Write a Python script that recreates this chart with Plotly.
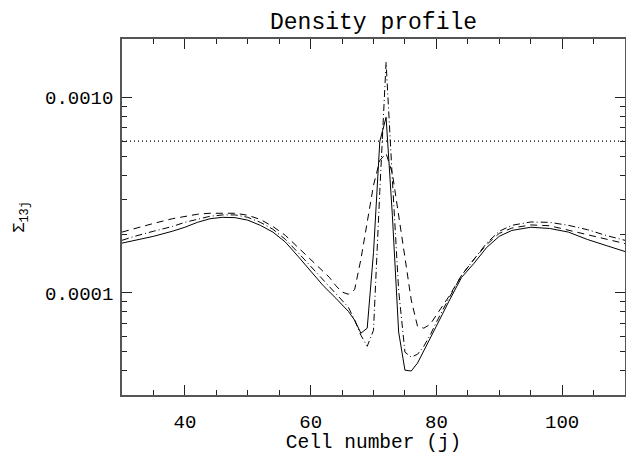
import plotly.graph_objects as go

# Cell numbers and surface density values
j_solid = [30, 32, 35, 38, 40, 42, 44, 46, 48, 50, 52, 54, 56, 58, 60, 62, 64, 66, 67, 68, 69,
           70, 71, 72, 73, 74, 75, 76, 77, 78, 79, 80, 82, 84, 86, 88, 90, 92, 95, 98, 101, 104, 107, 110]
sigma_solid = [1.80e-4, 1.86e-4, 1.95e-4, 2.07e-4, 2.17e-4, 2.30e-4, 2.40e-4, 2.44e-4, 2.43e-4,
               2.36e-4, 2.22e-4, 2.05e-4, 1.82e-4, 1.54e-4, 1.29e-4, 1.09e-4, 9.4e-5, 8.05e-5,
               7.25e-5, 6.22e-5, 6.6e-5, 1.61e-4, 5.97e-4, 7.95e-4, 2.50e-4, 6.3e-5, 4.02e-5,
               3.98e-5, 4.37e-5, 5.03e-5, 5.8e-5, 6.76e-5, 9.07e-5, 1.20e-4, 1.42e-4, 1.71e-4,
               1.95e-4, 2.09e-4, 2.17e-4, 2.14e-4, 2.05e-4, 1.88e-4, 1.75e-4, 1.63e-4]

j_dashed = [30, 32, 35, 38, 40, 42, 44, 46, 48, 50, 52, 54, 56, 58, 60, 62, 63, 64, 65, 66, 67,
            68, 69, 70, 71, 72, 73, 74, 75, 76, 77, 78, 79, 80, 82, 84, 86, 88, 90, 92, 95, 98,
            101, 104, 107, 110]
sigma_dashed = [2.05e-4, 2.14e-4, 2.27e-4, 2.40e-4, 2.47e-4, 2.53e-4, 2.56e-4, 2.57e-4, 2.56e-4,
                2.50e-4, 2.38e-4, 2.19e-4, 1.97e-4, 1.71e-4, 1.49e-4, 1.29e-4, 1.20e-4, 1.09e-4,
                1.01e-4, 9.85e-5, 1.04e-4, 1.49e-4, 2.30e-4, 3.56e-4, 4.77e-4, 5.19e-4, 4.10e-4,
                2.56e-4, 1.52e-4, 9.2e-5, 6.75e-5, 6.6e-5, 6.9e-5, 7.7e-5, 9.6e-5, 1.23e-4,
                1.49e-4, 1.77e-4, 2.02e-4, 2.15e-4, 2.23e-4, 2.21e-4, 2.10e-4, 1.98e-4, 1.88e-4, 1.79e-4]

j_dashdot = [30, 32, 35, 38, 40, 42, 44, 46, 48, 50, 52, 54, 56, 58, 60, 62, 64, 66, 67, 68, 69,
             70, 71, 72, 73, 74, 75, 76, 77, 78, 79, 80, 82, 84, 86, 88, 90, 92, 95, 98, 101,
             104, 107, 110]
sigma_dashdot = [1.86e-4, 1.95e-4, 2.07e-4, 2.19e-4, 2.30e-4, 2.38e-4, 2.47e-4, 2.51e-4, 2.51e-4,
                 2.44e-4, 2.30e-4, 2.12e-4, 1.88e-4, 1.61e-4, 1.37e-4, 1.16e-4, 1.0e-4, 8.45e-5,
                 7.25e-5, 6.07e-5, 5.33e-5, 6.44e-5, 3.31e-4, 1.52e-3, 3.82e-4, 1.03e-4, 4.97e-5,
                 4.69e-5, 4.85e-5, 5.33e-5, 6.07e-5, 7.08e-5, 9.4e-5, 1.23e-4, 1.49e-4, 1.80e-4,
                 2.07e-4, 2.22e-4, 2.31e-4, 2.30e-4, 2.22e-4, 2.11e-4, 1.97e-4, 1.86e-4]

threshold = 6.0e-4
x_range = [30, 110]
y_range = [3e-5, 2e-3]
y_tickvals = [1e-4, 1e-3]
y_ticktext = ["0.0001", "0.0010"]
y_minor = [4e-5, 5e-5, 6e-5, 7e-5, 8e-5, 9e-5, 2e-4, 3e-4, 4e-4, 5e-4, 6e-4, 7e-4, 8e-4, 9e-4]

FONT = "Liberation Mono"

fig = go.Figure()
fig.add_trace(go.Scatter(x=j_solid, y=sigma_solid, mode="lines",
                         line=dict(color="black", width=1)))
fig.add_trace(go.Scatter(x=j_dashed, y=sigma_dashed, mode="lines",
                         line=dict(color="black", width=1, dash="7px,5px")))
fig.add_trace(go.Scatter(x=j_dashdot, y=sigma_dashdot, mode="lines",
                         line=dict(color="black", width=1, dash="7px,3px,1px,3px")))
fig.add_trace(go.Scatter(x=x_range, y=[threshold, threshold], mode="lines",
                         line=dict(color="black", width=1.2, dash="1px,3px")))

fig.update_layout(
    width=626, height=454,
    margin=dict(l=122, r=1, t=39, b=59),
    paper_bgcolor="white", plot_bgcolor="white",
    showlegend=False,
    font=dict(family=FONT, color="black", size=19),
    title=dict(text="Density profile", x=0.5967, xanchor="center",
               y=1 - 21 / 454, yanchor="middle", yref="container",
               font=dict(family=FONT, size=23, color="black")),
    xaxis=dict(range=x_range, showgrid=False, zeroline=False, automargin=False,
               showline=True, linecolor="#555", linewidth=1.5, mirror="allticks",
               ticks="inside", ticklen=10, tickcolor="#222", tickwidth=1,
               tick0=0, dtick=20, ticklabelstandoff=8,
               minor=dict(ticks="inside", dtick=5, ticklen=5, tickcolor="#222", tickwidth=1),
               title=dict(text="Cell number (j)", standoff=25,
                          font=dict(family=FONT, size=19.5))),
    yaxis=dict(type="log", range=[-4.5229, -2.699], showgrid=False, zeroline=False,
               automargin=False,
               showline=True, linecolor="#555", linewidth=1.5, mirror="allticks",
               ticks="inside", ticklen=10, tickcolor="#222", tickwidth=1,
               tickmode="array", tickvals=y_tickvals, ticktext=y_ticktext,
               ticklabelstandoff=3,
               minor=dict(ticks="inside", tickmode="array", tickvals=y_minor,
                          ticklen=5, tickcolor="#222", tickwidth=1),
               title=dict(text="Σ<sub>13j</sub>", standoff=16,
                          font=dict(family=FONT, size=17))),
)

fig.write_html("out.html", config={"displayModeBar": False},
               post_script="document.body.style.margin='0px';document.body.style.padding='0px';")
